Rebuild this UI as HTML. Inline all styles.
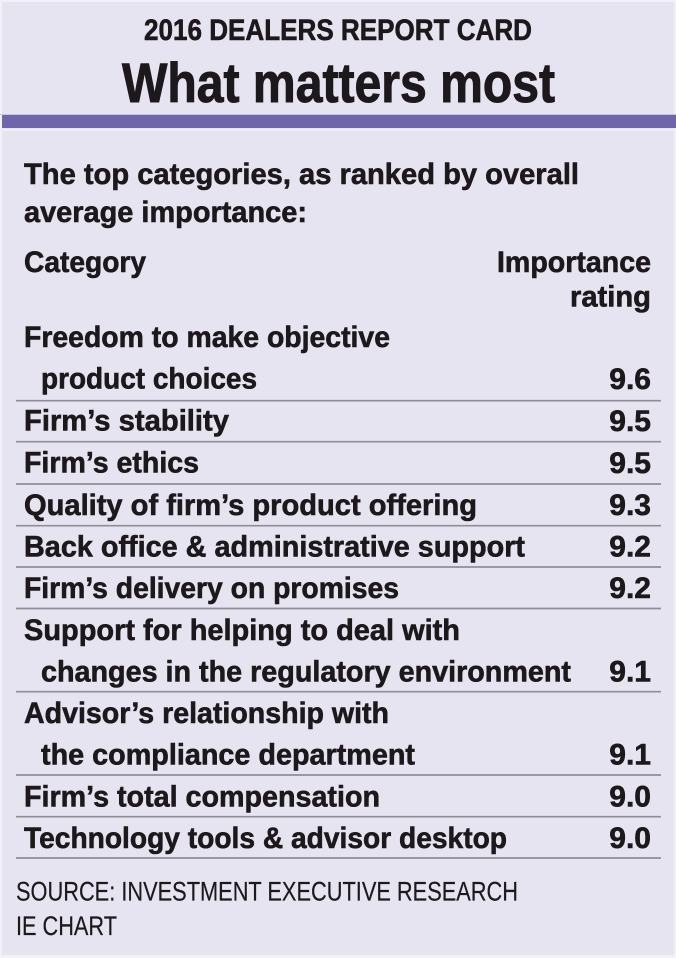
<!DOCTYPE html>
<html>
<head>
<meta charset="utf-8">
<style>
  html,body{margin:0;padding:0;background:#e7e4f1;}
  svg{display:block;}
  .b{font-family:"Liberation Sans",sans-serif;font-weight:bold;fill:#1c181c;stroke:#1c181c;stroke-width:0.6px;}
  .row{font-size:30px;}
  .num{font-size:30px;}
  .r{font-family:"Liberation Sans",sans-serif;font-weight:normal;fill:#1c181c;stroke:#1c181c;stroke-width:0.2px;}
</style>
</head>
<body>
<svg width="676" height="958" viewBox="0 0 676 958" xmlns="http://www.w3.org/2000/svg">
  <!-- background + faint frame -->
  <rect x="0" y="0" width="676" height="958" fill="#f2f1f7"/>
  <rect x="2" y="2" width="672" height="953" fill="#e7e4f1"/>

  <!-- headings -->
  <text class="b" x="338" y="40" font-size="30" text-anchor="middle" textLength="388" lengthAdjust="spacingAndGlyphs">2016 DEALERS REPORT CARD</text>
  <text class="b" x="338.5" y="102" font-size="56" text-anchor="middle" textLength="433" lengthAdjust="spacingAndGlyphs" style="stroke-width:1px">What matters most</text>

  <!-- purple bar -->
  <rect x="0" y="114" width="676" height="1" fill="#c9c4de"/>
  <rect x="2" y="115" width="674" height="13" fill="#6f66aa"/>
  <rect x="0" y="129" width="676" height="2" fill="#efedf6"/>

  <!-- intro -->
  <text class="b row" x="24" y="184" textLength="555" lengthAdjust="spacingAndGlyphs">The top categories, as ranked by overall</text>
  <text class="b row" x="24" y="222" textLength="283" lengthAdjust="spacingAndGlyphs">average importance:</text>

  <!-- column headers -->
  <text class="b row" x="24" y="272" textLength="122" lengthAdjust="spacingAndGlyphs">Category</text>
  <text class="b num" x="651" y="272" text-anchor="end" textLength="154" lengthAdjust="spacingAndGlyphs">Importance</text>
  <text class="b num" x="651" y="306.5" text-anchor="end" textLength="81" lengthAdjust="spacingAndGlyphs">rating</text>

  <!-- rows -->
  <g>
    <text class="b row" x="24" y="347" textLength="366" lengthAdjust="spacingAndGlyphs">Freedom to make objective</text>
    <text class="b row" x="41" y="388.5" textLength="216" lengthAdjust="spacingAndGlyphs">product choices</text>
    <text class="b num" x="651" y="389" text-anchor="end">9.6</text>

    <text class="b row" x="24" y="430.5" textLength="205" lengthAdjust="spacingAndGlyphs">Firm’s stability</text>
    <text class="b num" x="651" y="431" text-anchor="end">9.5</text>

    <text class="b row" x="24" y="472.5" textLength="175" lengthAdjust="spacingAndGlyphs">Firm’s ethics</text>
    <text class="b num" x="651" y="473" text-anchor="end">9.5</text>

    <text class="b row" x="24" y="515" textLength="453" lengthAdjust="spacingAndGlyphs">Quality of firm’s product offering</text>
    <text class="b num" x="651" y="515" text-anchor="end">9.3</text>

    <text class="b row" x="24" y="556.5" textLength="501" lengthAdjust="spacingAndGlyphs">Back office &amp; administrative support</text>
    <text class="b num" x="651" y="556.5" text-anchor="end">9.2</text>

    <text class="b row" x="24" y="598" textLength="375" lengthAdjust="spacingAndGlyphs">Firm’s delivery on promises</text>
    <text class="b num" x="651" y="598" text-anchor="end">9.2</text>

    <text class="b row" x="24" y="640" textLength="436" lengthAdjust="spacingAndGlyphs">Support for helping to deal with</text>
    <text class="b row" x="41" y="681.5" textLength="530" lengthAdjust="spacingAndGlyphs">changes in the regulatory environment</text>
    <text class="b num" x="651" y="681.5" text-anchor="end">9.1</text>

    <text class="b row" x="24" y="723" textLength="365" lengthAdjust="spacingAndGlyphs">Advisor’s relationship with</text>
    <text class="b row" x="41" y="764.5" textLength="374" lengthAdjust="spacingAndGlyphs">the compliance department</text>
    <text class="b num" x="651" y="764.5" text-anchor="end">9.1</text>

    <text class="b row" x="24" y="806.5" textLength="356" lengthAdjust="spacingAndGlyphs">Firm’s total compensation</text>
    <text class="b num" x="651" y="806.5" text-anchor="end">9.0</text>

    <text class="b row" x="24" y="848" textLength="483" lengthAdjust="spacingAndGlyphs">Technology tools &amp; advisor desktop</text>
    <text class="b num" x="651" y="848" text-anchor="end">9.0</text>
  </g>

  <!-- separators -->
  <g stroke="#8f8d97" stroke-width="1.7">
    <line x1="16" y1="400.7" x2="661" y2="400.7"/>
    <line x1="16" y1="441.7" x2="661" y2="441.7"/>
    <line x1="16" y1="484" x2="661" y2="484"/>
    <line x1="16" y1="525.7" x2="661" y2="525.7"/>
    <line x1="16" y1="567" x2="661" y2="567"/>
    <line x1="16" y1="608.5" x2="661" y2="608.5"/>
    <line x1="16" y1="691.7" x2="661" y2="691.7"/>
    <line x1="16" y1="775" x2="661" y2="775"/>
    <line x1="16" y1="816.7" x2="661" y2="816.7"/>
    <line x1="16" y1="858" x2="661" y2="858"/>
  </g>

  <!-- source -->
  <text class="r" x="16" y="900.5" font-size="27" textLength="502" lengthAdjust="spacingAndGlyphs">SOURCE: INVESTMENT EXECUTIVE RESEARCH</text>
  <text class="r" x="16" y="935" font-size="27" textLength="101" lengthAdjust="spacingAndGlyphs">IE CHART</text>
</svg>
</body>
</html>
